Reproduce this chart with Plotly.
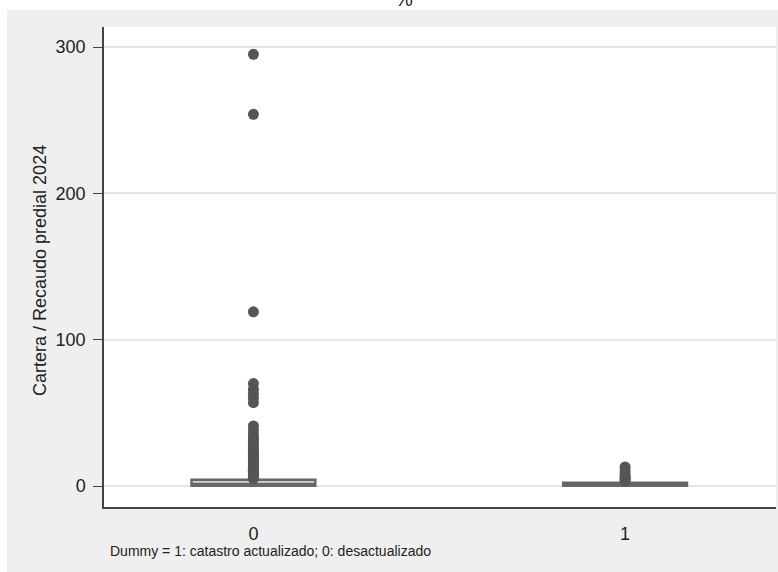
import plotly.graph_objects as go

# Data
groups = [0, 1]
tick_labels = ["0", "1"]
q1_vals = [0.2, 0.1]
median_vals = [1.3, 0.8]
q3_vals = [4.2, 2.2]
lower_fence = [0.0, 0.0]
upper_fence = [9.0, 5.0]

outliers_g0 = [295, 254, 119, 70, 66, 63, 60, 57, 41, 38, 35, 33, 31, 29, 27, 25,
               23, 22, 21, 20, 19, 18, 17, 16, 15, 14, 13, 12, 11.5, 11, 10.5, 10, 9.5,
               9, 8, 7, 6, 5]
outliers_g1 = [13, 10.5, 8, 6.5, 5.5, 4.5, 3.5]

y_ticks = [0, 100, 200, 300]

fig = go.Figure()

for g, q1, md, q3, lf, uf in zip(groups, q1_vals, median_vals, q3_vals, lower_fence, upper_fence):
    fig.add_trace(go.Box(
        x=[g], q1=[q1], median=[md], q3=[q3], lowerfence=[lf], upperfence=[uf],
        width=0.333, fillcolor="#d4d4d4",
        line=dict(color="#666666", width=2.5),
        whiskerwidth=0, boxpoints=False, showlegend=False, hoverinfo="skip",
    ))

fig.add_trace(go.Scatter(
    x=[groups[0]] * len(outliers_g0), y=outliers_g0, mode="markers",
    marker=dict(size=11, color="#555555"), showlegend=False,
))
fig.add_trace(go.Scatter(
    x=[groups[1]] * len(outliers_g1), y=outliers_g1, mode="markers",
    marker=dict(size=11, color="#555555"), showlegend=False,
))

W, H = 778, 572
ml, mr, mt, mb = 104, 2, 27, 65
pw, ph = W - ml - mr, H - mt - mb

def px_x(p):
    return (p - ml) / pw

def px_y(p):
    return (H - mb - p) / ph

fig.update_layout(
    width=W, height=H,
    margin=dict(l=ml, r=mr, t=mt, b=mb, pad=0, autoexpand=False),
    paper_bgcolor="#efefef", plot_bgcolor="#ffffff",
    font=dict(family="Liberation Sans, Arial, sans-serif", color="#222222"),
    xaxis=dict(
        range=[-0.402, 1.406], tickmode="array", tickvals=groups, ticktext=tick_labels,
        showgrid=False, zeroline=False, showline=True, linecolor="#444444", linewidth=1.5,
        ticks="", tickfont=dict(size=18, color="#222222"), ticklabelstandoff=10,
        automargin=False,
    ),
    yaxis=dict(
        range=[-14.35, 313.67], tickmode="array", tickvals=y_ticks,
        showgrid=True, gridcolor="#e6e6e6", gridwidth=1.5, zeroline=False,
        showline=True, linecolor="#444444", linewidth=1.5,
        ticks="outside", ticklen=9, tickcolor="#444444", tickwidth=1,
        tickfont=dict(size=18, color="#222222"), ticklabelstandoff=4,
        automargin=False,
    ),
    shapes=[
        dict(type="rect", xref="paper", yref="paper", x0=px_x(0), x1=px_x(W), y0=px_y(10), y1=px_y(0),
             fillcolor="#ffffff", line=dict(width=0), layer="below"),
        dict(type="rect", xref="paper", yref="paper", x0=px_x(0), x1=px_x(7), y0=px_y(H), y1=px_y(0),
             fillcolor="#ffffff", line=dict(width=0), layer="below"),
    ],
    annotations=[
        dict(text="Cartera / Recaudo predial 2024", xref="paper", yref="paper",
             x=px_x(40), y=px_y(271), xanchor="center", yanchor="middle", textangle=-90,
             showarrow=False, font=dict(size=18, color="#222222")),
        dict(text="Dummy = 1: catastro actualizado; 0: desactualizado", xref="paper", yref="paper",
             x=px_x(108), y=px_y(551), xanchor="left", yanchor="middle", showarrow=False,
             font=dict(size=14, color="#222222")),
        dict(text="%", xref="paper", yref="paper", x=px_x(404), y=px_y(-1), xanchor="center",
             yanchor="middle", showarrow=False, font=dict(size=20, color="#222222")),
    ],
)

fig.write_html("out.html", config={"displayModeBar": False},
               post_script="document.body.style.margin='0';document.body.style.overflow='hidden';")
